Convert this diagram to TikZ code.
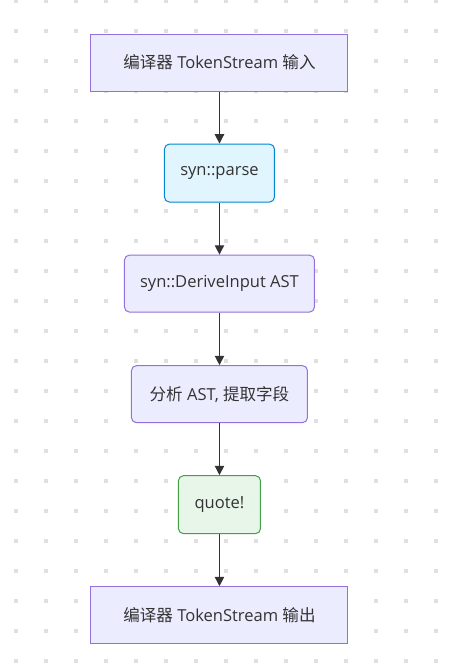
\documentclass[tikz,border=0pt]{standalone}
\usepackage{fontspec}
\setmainfont{Open Sans}
\newfontfamily\cjk{Noto Sans CJK SC}
\usetikzlibrary{shapes.geometric, arrows.meta}
\definecolor{boxfill}{HTML}{ECECFF}
\definecolor{boxdraw}{HTML}{9370DB}
\definecolor{parsefill}{HTML}{E1F5FE}
\definecolor{parsedraw}{HTML}{0288D1}
\definecolor{quotefill}{HTML}{E8F5E9}
\definecolor{quotedraw}{HTML}{43A047}
\definecolor{dotgray}{HTML}{E0E0E0}
\definecolor{txt}{HTML}{333333}
\tikzstyle{process} = [rectangle, minimum height=42.75pt, text centered, draw=boxdraw, fill=boxfill, line width=0.75pt, text=txt, font=\fontsize{12.4pt}{14pt}\selectfont]
\tikzstyle{stepbox} = [process, rounded corners=3.75pt]
\tikzstyle{arrow} = [line width=0.9pt, draw=txt, -{Triangle[length=7pt,width=7pt]}]

\begin{document}
\begin{tikzpicture}[node distance=82.9pt]
\useasboundingbox (0,0) rectangle (338.25pt,-502.5pt);
\fill[white] (0,0) rectangle (338.25pt,-502.5pt);

% Dotted background
\foreach \i in {0,...,14}
  \foreach \j in {0,...,22}
    \fill[dotgray] (10.5pt+22.5pt*\i,-22.5pt*\j+0.75pt) rectangle ++(3pt,-3pt);

% Steps
\node (S) [process, minimum width=192.75pt] at (164.6pt,-46.9pt) {{\cjk 编译器} TokenStream {\cjk 输入}};
\node (S1) [stepbox, below of=S, minimum width=82.5pt, minimum height=43.5pt, draw=parsedraw, fill=parsefill] {syn::parse};
\node (S2) [stepbox, below of=S1, minimum width=142.5pt] {syn::DeriveInput AST};
\node (S3) [stepbox, below of=S2, minimum width=132pt] {{\cjk 分析} AST, {\cjk 提取字段}};
\node (S4) [stepbox, below of=S3, minimum width=61.5pt, minimum height=43.5pt, draw=quotedraw, fill=quotefill] {quote!};
\node (F) [process, below of=S4, minimum width=192.75pt] {{\cjk 编译器} TokenStream {\cjk 输出}};

% Connecting arrows
\draw [arrow] (S) -- (S1);
\draw [arrow] (S1) -- (S2);
\draw [arrow] (S2) -- (S3);
\draw [arrow] (S3) -- (S4);
\draw [arrow] (S4) -- (F);

\end{tikzpicture}
\end{document}
